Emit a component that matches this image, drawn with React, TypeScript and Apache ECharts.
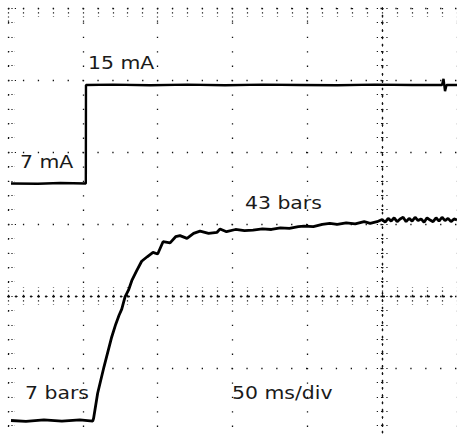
import React, { useEffect, useRef } from "react";
import * as echarts from "echarts";

// Current trace (mA) against time (ms)
const currentTimeMs = [2, 20, 35, 52, 52.1, 70, 95, 120, 145, 170, 195, 220, 245, 270, 290, 291, 292, 293, 300];
const currentMa = [7.0, 6.97, 7.03, 7.0, 15.0, 15.03, 14.97, 15.03, 14.97, 15.03, 15.0, 14.97, 15.03, 15.0, 15.0, 15.5, 14.5, 15.0, 15.0];

// Pressure trace (bars) against time (ms)
const pressureTimeMs = [2, 12, 24, 36, 48, 56.6, 57.2, 59.9, 64.1, 69.3, 72, 74.2, 76, 78.2, 80.5, 82.7, 86, 89.3, 93, 96.9, 100, 103.6, 108.3, 112, 114.9, 119.6, 124, 128.3, 134, 139.7, 141.7, 146, 152, 158, 163.7, 170, 176, 182, 188, 194, 197.8, 204, 210, 215, 220, 226, 232, 238, 242, 246.6, 250, 252, 254, 256, 258, 260, 262, 264, 266, 268, 270, 272, 274, 276, 278, 280, 282, 284, 286, 288, 290, 292, 294, 296, 298, 300];
const pressureBars = [7.0, 6.85, 7.1, 6.9, 7.1, 6.9, 7.4, 11.9, 16.6, 22.0, 24.3, 25.9, 27.0, 29.2, 30.4, 32.1, 33.9, 35.6, 36.4, 37.2, 36.9, 39.1, 38.9, 40.0, 40.2, 39.7, 40.6, 41.0, 40.6, 40.8, 41.4, 40.9, 41.3, 41.1, 41.2, 41.4, 41.3, 41.6, 41.5, 41.8, 41.9, 41.8, 42.2, 42.4, 42.2, 42.5, 42.3, 42.7, 42.4, 42.7, 43.1, 42.6, 43.3, 42.8, 43.4, 42.7, 43.2, 43.5, 42.7, 43.3, 42.8, 43.5, 42.9, 43.2, 42.6, 43.4, 43.0, 42.7, 43.4, 42.8, 43.5, 42.9, 43.3, 42.7, 43.2, 43.0];

// Screen divisions
const xDivRange = [-5, 1];
const yDivRange = [-2, 4];
const timeRangeMs = [0, 300];
const currentRangeMa = [-13.84, 21.25];
const pressureRangeBars = [3.5, 81.07];

const labelTexts = ["15 mA", "7 mA", "43 bars", "7 bars", "50 ms/div"];

export default function App() {
  const ref = useRef<HTMLDivElement>(null);
  useEffect(() => {
    const chart = echarts.init(ref.current!, null, { renderer: "svg" });
    const ink = "#111";
    const dotted = (gap: number, w = 1.3) => ({ color: ink, width: w, type: [w, gap] as any });
    const hiddenAxis = { show: false };
    const textStyle = { fontFamily: "DejaVu Sans", fontSize: 17, fill: "#1a1a1a", verticalAlign: "middle", align: "left" };
    const labelPos = [
      [88, 63],
      [20, 162],
      [245, 203],
      [25, 393],
      [232, 393],
    ];
    chart.setOption({
      animation: false,
      backgroundColor: "#fff",
      grid: { left: 8, top: 8, right: 0, bottom: 8, containLabel: false },
      xAxis: [
        {
          type: "value", min: xDivRange[0], max: xDivRange[1], interval: 1, position: "top",
          axisLine: { show: false, onZero: false }, axisLabel: { show: false },
          axisTick: { show: true, inside: true, length: 15, lineStyle: dotted(3, 1.2) },
          minorTick: { show: true, splitNumber: 5, length: 9, lineStyle: dotted(3, 1.2) },
          splitLine: { show: true, lineStyle: dotted(13.1) },
        },
        {
          type: "value", min: xDivRange[0], max: xDivRange[1], interval: 1, position: "bottom",
          axisLine: { show: true, onZero: true, onZeroAxisIndex: 0, lineStyle: dotted(6.2) },
          axisLabel: { show: false },
          axisTick: { show: true, inside: true, length: 9, lineStyle: dotted(3, 1.2) },
          minorTick: { show: true, splitNumber: 5, length: 9, lineStyle: dotted(3, 1.2) },
          splitLine: { show: false },
        },
        {
          type: "value", min: xDivRange[0], max: xDivRange[1], interval: 1, position: "bottom",
          axisLine: { show: true, onZero: true, onZeroAxisIndex: 0, lineStyle: dotted(6.2) },
          axisLabel: { show: false },
          axisTick: { show: true, inside: false, length: 9, lineStyle: dotted(3, 1.2) },
          minorTick: { show: true, splitNumber: 5, length: 9, lineStyle: dotted(3, 1.2) },
          splitLine: { show: false },
        },
        { type: "value", min: timeRangeMs[0], max: timeRangeMs[1], ...hiddenAxis },
      ],
      yAxis: [
        {
          type: "value", min: yDivRange[0], max: yDivRange[1], interval: 1, position: "left",
          axisLine: { show: false, onZero: false }, axisLabel: { show: false },
          axisTick: { show: true, inside: true, length: 8, lineStyle: dotted(2.2, 1.2) },
          minorTick: { show: true, splitNumber: 5, length: 7, lineStyle: dotted(2.2, 1.2) },
          splitLine: { show: true, lineStyle: dotted(13.6) },
        },
        {
          type: "value", min: yDivRange[0], max: yDivRange[1], interval: 1, position: "left",
          axisLine: { show: true, onZero: true, onZeroAxisIndex: 0, lineStyle: dotted(6) },
          axisLabel: { show: false },
          axisTick: { show: true, inside: true, length: 8, lineStyle: dotted(3, 1.2) },
          minorTick: { show: true, splitNumber: 5, length: 8, lineStyle: dotted(3, 1.2) },
          splitLine: { show: false },
        },
        {
          type: "value", min: yDivRange[0], max: yDivRange[1], interval: 1, position: "left",
          axisLine: { show: true, onZero: true, onZeroAxisIndex: 0, lineStyle: dotted(6) },
          axisLabel: { show: false },
          axisTick: { show: true, inside: false, length: 8, lineStyle: dotted(3, 1.2) },
          minorTick: { show: true, splitNumber: 5, length: 8, lineStyle: dotted(3, 1.2) },
          splitLine: { show: false },
        },
        { type: "value", min: currentRangeMa[0], max: currentRangeMa[1], position: "right", ...hiddenAxis },
        { type: "value", min: pressureRangeBars[0], max: pressureRangeBars[1], position: "right", ...hiddenAxis },
      ],
      series: [
        {
          type: "line", name: "current", xAxisIndex: 3, yAxisIndex: 3, showSymbol: false, silent: true,
          data: currentTimeMs.map((t, i) => [t, currentMa[i]]),
          lineStyle: { color: "#000", width: 2.4 },
        },
        {
          type: "line", name: "pressure", xAxisIndex: 3, yAxisIndex: 4, showSymbol: false, silent: true,
          data: pressureTimeMs.map((t, i) => [t, pressureBars[i]]),
          lineStyle: { color: "#000", width: 2.8 },
        },
      ],
      graphic: labelTexts.map((t, i) => ({
        type: "text", x: labelPos[i][0], y: labelPos[i][1], scaleX: 1.2, silent: true,
        style: { ...textStyle, text: t },
      })),
    });
    return () => chart.dispose();
  }, []);
  return (
    <div style={{ position: "absolute", left: 0, top: 0, width: 457, height: 437, overflow: "hidden", background: "#fff" }}>
      <div ref={ref} style={{ width: 457, height: 448 }} />
    </div>
  );
}
